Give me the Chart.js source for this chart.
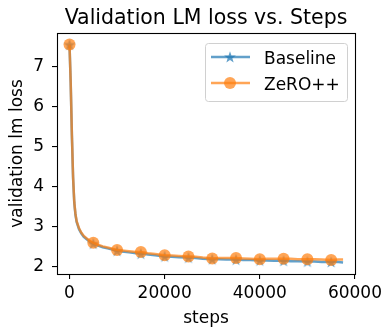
<!DOCTYPE html>
<html>
<head>
<meta charset="utf-8">
<script src="https://cdn.jsdelivr.net/npm/chart.js@4"></script>
<style>
  html, body { margin: 0; padding: 0; background: #fff; }
  #wrap { width: 386px; height: 330px; }
</style>
</head>
<body>
<div id="wrap"><canvas id="lossChart" width="386" height="330"></canvas></div>
<script>
// values
const steps = [0, 250, 500, 750, 1000, 1250, 1500, 2000, 2500, 3000,
  4000, 5000, 6000, 7000, 8000, 9000, 10000, 11000, 12500, 14000,
  15000, 16500, 18000, 20000, 21500, 23000, 25000, 26500, 28000, 30000,
  31500, 33000, 35000, 36500, 38000, 40000, 41500, 43000, 45000, 46500,
  48000, 50000, 51500, 53000, 55000, 56500, 57500];

const baselineLoss = [7.55, 6.58, 5.28, 4.22, 3.6, 3.3, 3.12, 2.94, 2.83, 2.75,
  2.65, 2.58, 2.53, 2.49, 2.46, 2.43, 2.40, 2.38, 2.36, 2.34,
  2.33, 2.31, 2.29, 2.26, 2.25, 2.24, 2.23, 2.22, 2.20, 2.19,
  2.19, 2.18, 2.18, 2.17, 2.17, 2.16, 2.16, 2.15, 2.15, 2.14,
  2.14, 2.13, 2.13, 2.12, 2.12, 2.12, 2.11];

const zeroLoss = [7.55, 6.6, 5.3, 4.25, 3.62, 3.32, 3.14, 2.96, 2.85, 2.77,
  2.67, 2.60, 2.55, 2.51, 2.48, 2.45, 2.42, 2.41, 2.39, 2.37,
  2.37, 2.34, 2.32, 2.29, 2.28, 2.27, 2.26, 2.25, 2.23, 2.21,
  2.22, 2.22, 2.22, 2.21, 2.20, 2.19, 2.20, 2.20, 2.20, 2.20,
  2.19, 2.19, 2.19, 2.18, 2.17, 2.18, 2.18];

const seriesNames = ['Baseline', 'ZeRO++'];
const xTicks = [0, 20000, 40000, 60000];
const yTicks = [2, 3, 4, 5, 6, 7];

const blue = 'rgba(31, 119, 180, 0.7)';
const orange = 'rgba(255, 127, 14, 0.7)';
const FONT = "'DejaVu Sans', 'Liberation Sans', sans-serif";

Chart.defaults.font.family = FONT;
Chart.defaults.color = '#000';

function drawStar(ctx, cx, cy, r, color) {
  ctx.beginPath();
  for (let i = 0; i < 10; i++) {
    const rad = i % 2 === 0 ? r : r * 0.4;
    const a = -Math.PI / 2 + i * Math.PI / 5;
    const px = cx + rad * Math.cos(a);
    const py = cy + rad * Math.sin(a);
    if (i === 0) ctx.moveTo(px, py); else ctx.lineTo(px, py);
  }
  ctx.closePath();
  ctx.fillStyle = color;
  ctx.fill();
}

// filled five point star like matplotlib '*'
const starImg = document.createElement('canvas');
starImg.width = 14;
starImg.height = 14;
drawStar(starImg.getContext('2d'), 7, 7.5, 6.2, blue);

function toPoints(ys) {
  return steps.map((s, i) => ({ x: s, y: ys[i] }));
}

function markEvery(ctx) {
  return steps[ctx.dataIndex] % 5000 === 0 ? 6 : 0;
}

const framePlugin = {
  id: 'frame',
  afterDraw(chart) {
    const ctx = chart.ctx;
    const a = chart.chartArea;
    ctx.save();
    ctx.strokeStyle = '#000';
    ctx.lineWidth = 1.1;
    ctx.strokeRect(Math.round(a.left) + 0.5, Math.round(a.top) + 0.5,
      Math.round(a.right - a.left), Math.round(a.bottom - a.top));

    // title centred over the axes
    ctx.fillStyle = '#000';
    ctx.font = '20.5px ' + FONT;
    ctx.textAlign = 'center';
    ctx.textBaseline = 'alphabetic';
    ctx.fillText('Validation LM loss vs. Steps', (a.left + a.right) / 2, 24);

    // legend box
    const lx = 205.5, ly = 43.5, lw = 142, lh = 58, r = 3;
    ctx.beginPath();
    ctx.moveTo(lx + r, ly);
    ctx.arcTo(lx + lw, ly, lx + lw, ly + lh, r);
    ctx.arcTo(lx + lw, ly + lh, lx, ly + lh, r);
    ctx.arcTo(lx, ly + lh, lx, ly, r);
    ctx.arcTo(lx, ly, lx + lw, ly, r);
    ctx.closePath();
    ctx.fillStyle = 'rgba(255,255,255,0.8)';
    ctx.fill();
    ctx.strokeStyle = '#d0d0d0';
    ctx.lineWidth = 1;
    ctx.stroke();

    const rows = [57, 83];
    const colors = [blue, orange];
    rows.forEach((y, i) => {
      ctx.strokeStyle = colors[i];
      ctx.lineWidth = 2.5;
      ctx.beginPath();
      ctx.moveTo(211, y);
      ctx.lineTo(250, y);
      ctx.stroke();
      if (i === 0) {
        drawStar(ctx, 230, y + 0.5, 6.2, blue);
      } else {
        ctx.beginPath();
        ctx.arc(230, y, 6, 0, Math.PI * 2);
        ctx.fillStyle = orange;
        ctx.fill();
      }
      ctx.fillStyle = '#000';
      ctx.font = '17px ' + FONT;
      ctx.textAlign = 'left';
      ctx.fillText(seriesNames[i], 264, y + 6.5);
    });
    ctx.restore();
  }
};

const ctx = document.getElementById('lossChart').getContext('2d');
new Chart(ctx, {
  type: 'line',
  data: {
    datasets: [
      {
        label: seriesNames[0],
        data: toPoints(baselineLoss),
        borderColor: blue,
        borderWidth: 2.5,
        pointStyle: starImg,
        pointRadius: markEvery,
        pointHoverRadius: 0,
        tension: 0,
        order: 1
      },
      {
        label: seriesNames[1],
        data: toPoints(zeroLoss),
        borderColor: orange,
        backgroundColor: orange,
        borderWidth: 2.5,
        pointStyle: 'circle',
        pointRadius: markEvery,
        pointBorderWidth: 0,
        pointBackgroundColor: orange,
        pointHoverRadius: 0,
        tension: 0,
        order: 0
      }
    ]
  },
  options: {
    responsive: false,
    animation: false,
    layout: { padding: { top: 33, right: 29, left: 0, bottom: 0 } },
    plugins: {
      legend: { display: false },
      tooltip: { enabled: false },
      title: { display: false }
    },
    scales: {
      x: {
        type: 'linear',
        min: -2630,
        max: 60000,
        afterFit: s => { s.height = 56; },
        afterBuildTicks: s => { s.ticks = xTicks.map(v => ({ value: v })); },
        ticks: {
          font: { size: 17 },
          color: '#000',
          padding: 4,
          maxRotation: 0,
          callback: v => String(v)
        },
        grid: { drawOnChartArea: false, color: '#000', tickLength: 5, lineWidth: 1.1 },
        border: { display: false },
        title: { display: true, text: 'steps', font: { size: 17 }, color: '#000', padding: { top: 0, bottom: 1 } }
      },
      y: {
        type: 'linear',
        min: 1.82,
        max: 7.84,
        afterFit: s => { s.width = 57; },
        afterBuildTicks: s => { s.ticks = yTicks.map(v => ({ value: v })); },
        ticks: {
          font: { size: 17 },
          color: '#000',
          padding: 8,
          callback: v => String(v)
        },
        grid: { drawOnChartArea: false, color: '#000', tickLength: 5, lineWidth: 1.1 },
        border: { display: false },
        title: { display: true, text: 'validation lm loss', font: { size: 17 }, color: '#000', padding: { top: 7, bottom: 0 } }
      }
    }
  },
  plugins: [framePlugin]
});
</script>
</body>
</html>
